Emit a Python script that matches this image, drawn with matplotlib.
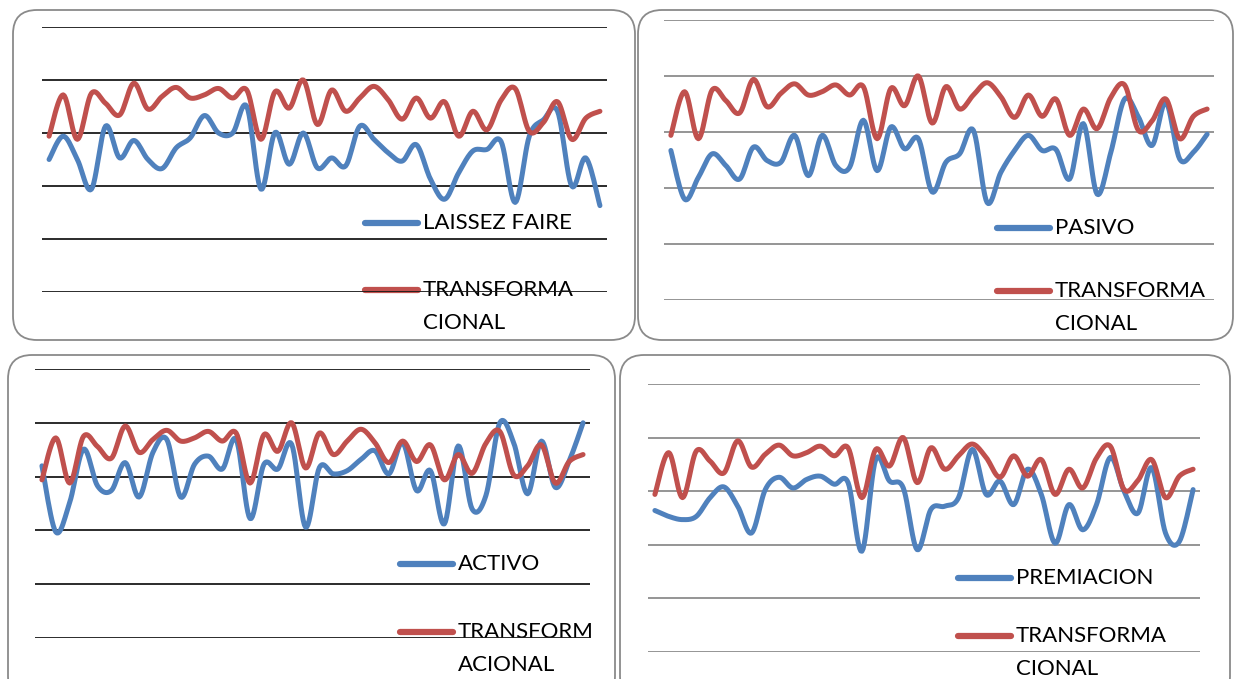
import matplotlib
matplotlib.use('Agg')
import matplotlib.pyplot as plt
from matplotlib.patches import FancyBboxPatch
from matplotlib.lines import Line2D
import numpy as np

# data (40 cases, scale 0-5)
transformacional = [2.94, 3.72, 2.88, 3.75, 3.56, 3.34, 3.94, 3.45, 3.69, 3.86,
                    3.66, 3.72, 3.84, 3.66, 3.81, 2.88, 3.78, 3.47, 4.00, 3.16,
                    3.81, 3.41, 3.66, 3.88, 3.63, 3.26, 3.66, 3.28, 3.59, 2.94,
                    3.41, 3.06, 3.62, 3.84, 3.03, 3.20, 3.59, 2.88, 3.28, 3.41]
laissez_faire = [2.50, 2.94, 2.50, 1.94, 3.13, 2.53, 2.86, 2.50, 2.33, 2.72,
                 2.91, 3.33, 3.00, 3.00, 3.50, 1.94, 3.01, 2.41, 3.00, 2.34,
                 2.53, 2.38, 3.13, 2.88, 2.63, 2.47, 2.78, 2.13, 1.75, 2.25,
                 2.66, 2.69, 2.84, 1.69, 2.94, 3.25, 3.41, 2.00, 2.53, 1.63]
pasivo = [2.67, 1.80, 2.19, 2.61, 2.40, 2.16, 2.73, 2.49, 2.46, 2.94,
          2.22, 2.94, 2.40, 2.37, 3.21, 2.31, 3.09, 2.70, 2.88, 1.93,
          2.46, 2.61, 3.03, 1.74, 2.28, 2.67, 2.94, 2.67, 2.69, 2.16,
          3.15, 1.89, 2.64, 3.59, 3.27, 2.76, 3.53, 2.52, 2.64, 2.96]
activo = [3.20, 1.97, 2.52, 3.51, 2.83, 2.74, 3.26, 2.62, 3.45, 3.69,
          2.62, 3.23, 3.38, 3.14, 3.69, 2.22, 3.23, 3.14, 3.60, 2.06,
          3.17, 3.05, 3.11, 3.32, 3.48, 3.05, 3.63, 2.74, 3.11, 2.12,
          3.57, 2.40, 2.65, 4.00, 3.63, 2.68, 3.66, 2.80, 3.29, 4.00]
premiacion = [2.64, 2.53, 2.47, 2.53, 2.88, 3.08, 2.72, 2.22, 3.03, 3.26,
              3.06, 3.22, 3.28, 3.13, 3.16, 1.88, 3.59, 3.19, 3.06, 1.91,
              2.66, 2.72, 2.88, 3.78, 2.94, 3.19, 2.75, 3.41, 2.94, 2.03,
              2.75, 2.28, 2.75, 3.63, 3.00, 2.59, 3.44, 2.22, 2.06, 3.03]

blue_names = ['LAISSEZ FAIRE', 'PASIVO', 'ACTIVO', 'PREMIACION']
red_names = [['TRANSFORMA', 'CIONAL'], ['TRANSFORMA', 'CIONAL'],
             ['TRANSFORM', 'ACIONAL'], ['TRANSFORMA', 'CIONAL']]
blue_series = [laissez_faire, pasivo, activo, premiacion]

BLUE = '#4F81BD'
RED = '#C0504D'
W, H = 1235, 679


def smooth(y, steps=12):
    # Catmull-Rom curve through the points, like Excel's smoothed line
    y = np.asarray(y, dtype=float)
    x = np.arange(len(y), dtype=float)
    p = np.concatenate([[y[0]], y, [y[-1]]])
    px = np.concatenate([[x[0]], x, [x[-1]]])
    xs, ys = [], []
    t = np.linspace(0, 1, steps, endpoint=False)
    for i in range(1, len(p) - 2):
        for arr, out in ((px, xs), (p, ys)):
            p0, p1, p2, p3 = arr[i - 1], arr[i], arr[i + 1], arr[i + 2]
            out.extend(0.5 * (2 * p1 + (-p0 + p2) * t
                              + (2 * p0 - 5 * p1 + 4 * p2 - p3) * t ** 2
                              + (-p0 + 3 * p1 - 3 * p2 + p3) * t ** 3))
    xs.append(x[-1])
    ys.append(y[-1])
    return np.array(xs), np.array(ys)


fig = plt.figure(figsize=(W / 100, H / 100), dpi=100)
bg = fig.add_axes([0, 0, 1, 1])
bg.set_xlim(0, W)
bg.set_ylim(H, 0)
bg.axis('off')

# panel layout in pixels: box, plot area (x0, y_top, x1, y_bottom), grid colour, legend x, legend ys
panels = [
    dict(box=(13, 10, 635, 340), plot=(42, 27, 607, 292), grid='#1a1a1a',
         lx=365, ly=(223, 290)),
    dict(box=(638, 10, 1233, 340), plot=(664, 20, 1214, 300), grid='#8c8c8c',
         lx=997, ly=(228, 291)),
    dict(box=(8, 355, 615, 700), plot=(35, 369, 590, 638), grid='#1a1a1a',
         lx=400, ly=(564, 632)),
    dict(box=(620, 355, 1230, 700), plot=(648, 384, 1200, 652), grid='#8c8c8c',
         lx=958, ly=(578, 636)),
]

for i, pn in enumerate(panels):
    bx0, by0, bx1, by1 = pn['box']
    bg.add_patch(FancyBboxPatch((bx0, by0), bx1 - bx0, by1 - by0,
                                boxstyle='round,pad=0,rounding_size=24',
                                fc='white', ec='#8a8a8a', lw=1.3))
    x0, y0, x1, y1 = pn['plot']
    ax = fig.add_axes([x0 / W, 1 - y1 / H, (x1 - x0) / W, (y1 - y0) / H])
    ax.patch.set_alpha(0)
    ax.set_xlim(-0.5, 39.5)
    ax.set_ylim(0, 5)
    ax.axis('off')
    for g in range(6):
        ax.axhline(g, color=pn['grid'], lw=1.3, zorder=1)
    xs, ys = smooth(blue_series[i])
    ax.plot(xs, ys, color=BLUE, lw=3.6, solid_capstyle='round', zorder=3)
    xs, ys = smooth(transformacional)
    ax.plot(xs, ys, color=RED, lw=3.6, solid_capstyle='round', zorder=3)

    lx = pn['lx']
    entries = ((BLUE, pn['ly'][0], [blue_names[i]]),
               (RED, pn['ly'][1], red_names[i]))
    for col, ly, lines in entries:
        bg.add_line(Line2D([lx, lx + 53], [ly, ly], color=col, lw=4.5,
                           solid_capstyle='round', zorder=2))
        for j, s in enumerate(lines):
            bg.text(lx + 58, ly + 33 * j, s, fontsize=16, family='Lato',
                    color='black', va='center', ha='left', zorder=2)

plt.savefig('out.png', dpi=100)
